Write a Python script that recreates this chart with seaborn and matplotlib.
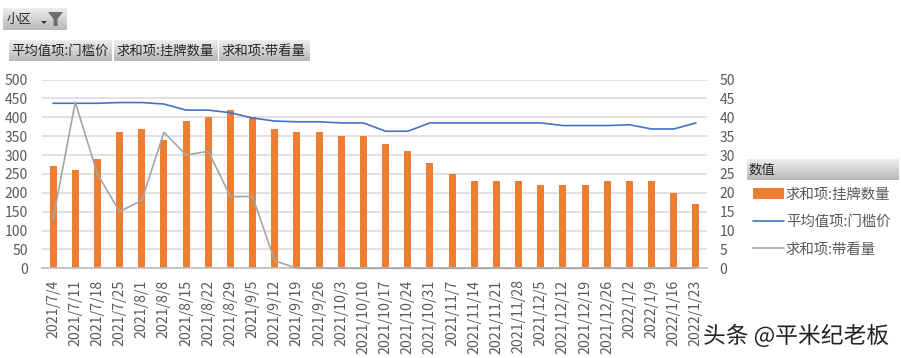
import numpy as np
import pandas as pd
import matplotlib
matplotlib.use('Agg')
import matplotlib.pyplot as plt
import matplotlib.patheffects as pe
from matplotlib.patches import Polygon
import seaborn as sns

dates = ['2021/7/4', '2021/7/11', '2021/7/18', '2021/7/25', '2021/8/1', '2021/8/8',
         '2021/8/15', '2021/8/22', '2021/8/29', '2021/9/5', '2021/9/12', '2021/9/19',
         '2021/9/26', '2021/10/3', '2021/10/10', '2021/10/17', '2021/10/24', '2021/10/31',
         '2021/11/7', '2021/11/14', '2021/11/21', '2021/11/28', '2021/12/5', '2021/12/12',
         '2021/12/19', '2021/12/26', '2022/1/2', '2022/1/9', '2022/1/16', '2022/1/23']
listings = [270, 260, 290, 360, 370, 340, 390, 400, 420, 400, 370, 360, 360, 350, 350,
            330, 310, 280, 250, 230, 230, 230, 220, 220, 220, 230, 230, 230, 200, 170]
threshold = [437, 437, 437, 439, 439, 435, 419, 419, 412, 398, 390, 388, 388, 385, 385,
             363, 363, 385, 385, 385, 385, 385, 385, 378, 378, 378, 380, 369, 369, 385]
viewings = [13, 44, 25, 15, 18, 36, 30, 31, 19, 19, 2, 0, 0, 0, 0,
            0, 0, 0, 0, 0, 0, 0, 0, 0, 0, 0, 0, 0, 0, 0]
left_ticks = [0, 50, 100, 150, 200, 250, 300, 350, 400, 450, 500]
right_ticks = [0, 5, 10, 15, 20, 25, 30, 35, 40, 45, 50]

ORANGE = '#ED7D31'
BLUE = '#4472C4'
GRAY = '#A5A5A5'
TEXT = '#595959'
W, H = 901, 358

sns.set_theme(style='white')
plt.rcParams['font.family'] = ['Noto Sans CJK SC', 'DejaVu Sans']

df = pd.DataFrame({'date': dates, 'listings': listings, 'threshold': threshold, 'viewings': viewings})
df['pos'] = np.arange(len(df))

fig = plt.figure(figsize=(W / 100, H / 100), dpi=100)
ax = fig.add_axes([42 / W, 1 - 268.3 / H, 665 / W, 188.8 / H])


def button(x0, y0, x1, y1, label, size=9.6, pad=2.5):
    # grey pivot-table field button with a vertical gradient
    b = fig.add_axes([x0 / W, 1 - y1 / H, (x1 - x0) / W, (y1 - y0) / H])
    grad = np.linspace(0.93, 0.72, 32).reshape(-1, 1)
    b.imshow(grad, aspect='auto', cmap='gray', vmin=0, vmax=1)
    b.axis('off')
    fig.text((x0 + pad) / W, 1 - (y0 + y1) / 2 / H, label, fontsize=size, color='#262626', va='center')


sns.barplot(data=df, x='date', y='listings', color=ORANGE, width=0.32, saturation=1,
            linewidth=0, ax=ax, label='求和项:挂牌数量')
sns.lineplot(data=df, x='pos', y='threshold', color=BLUE, linewidth=1.2, ax=ax,
             label='平均值项:门槛价', sort=False)

ax2 = ax.twinx()
sns.lineplot(data=df, x='pos', y='viewings', color=GRAY, linewidth=1.2, ax=ax2,
             label='求和项:带看量', sort=False, clip_on=False)

ax.set_xlim(-0.5, len(dates) - 0.5)
ax.set_ylim(0, 500)
ax2.set_ylim(0, 50)
ax.set_yticks(left_ticks)
ax2.set_yticks(right_ticks)
ax.set_xlabel('')
ax.set_ylabel('')
ax2.set_ylabel('')
ax.yaxis.grid(True, color='#D9D9D9', linewidth=1.1)
ax.set_axisbelow(True)
ax.tick_params(axis='y', length=0, labelsize=10, labelcolor=TEXT, pad=10)
ax2.tick_params(axis='y', length=0, labelsize=10, labelcolor=TEXT, pad=9)
ax.tick_params(axis='x', length=0, labelsize=10.2, labelcolor=TEXT, rotation=90, pad=8)
for a in (ax, ax2):
    for s in a.spines.values():
        s.set_visible(False)
ax.spines['bottom'].set_visible(True)
ax.spines['bottom'].set_color('#BFBFBF')

h1, l1 = ax.get_legend_handles_labels()
h2, l2 = ax2.get_legend_handles_labels()
ax.get_legend().remove()
ax2.get_legend().remove()
by_label = dict(zip(l1 + l2, h1 + h2))
order = ['求和项:挂牌数量', '平均值项:门槛价', '求和项:带看量']
fig.legend([by_label[k] for k in order], order, loc='upper left',
           bbox_to_anchor=(753 / W, 1 - 187.5 / H), frameon=False, fontsize=10.4,
           labelcolor=TEXT, handlelength=2.12, handletextpad=0.15,
           labelspacing=0.93, borderaxespad=0, borderpad=0)

# pivot chart field buttons
button(3, 8, 67, 30, '小区', size=9, pad=4)
button(9, 40, 112, 61, '平均值项:门槛价')
button(114, 40, 218, 61, '求和项:挂牌数量')
button(219, 40, 310, 61, '求和项:带看量')
button(747, 159, 899, 180, '数值', pad=2)

# filter icon and dropdown arrow on the first button
funnel = [(48, 12), (63, 12), (57.5, 19), (57.5, 26), (53.5, 26), (53.5, 19)]
fig.add_artist(Polygon([(x / W, 1 - y / H) for x, y in funnel], transform=fig.transFigure,
                       color='#6E6E6E', lw=0))
arrow = [(41, 21), (47, 21), (44, 24)]
fig.add_artist(Polygon([(x / W, 1 - y / H) for x, y in arrow], transform=fig.transFigure,
                       color='#333333', lw=0))

fig.text(703 / W, 1 - 336 / H, '头条 @平米纪老板', fontsize=16.4, color='#222222', va='center',
         path_effects=[pe.withStroke(linewidth=2, foreground='white')], zorder=10)

fig.savefig('out.png', dpi=100)
